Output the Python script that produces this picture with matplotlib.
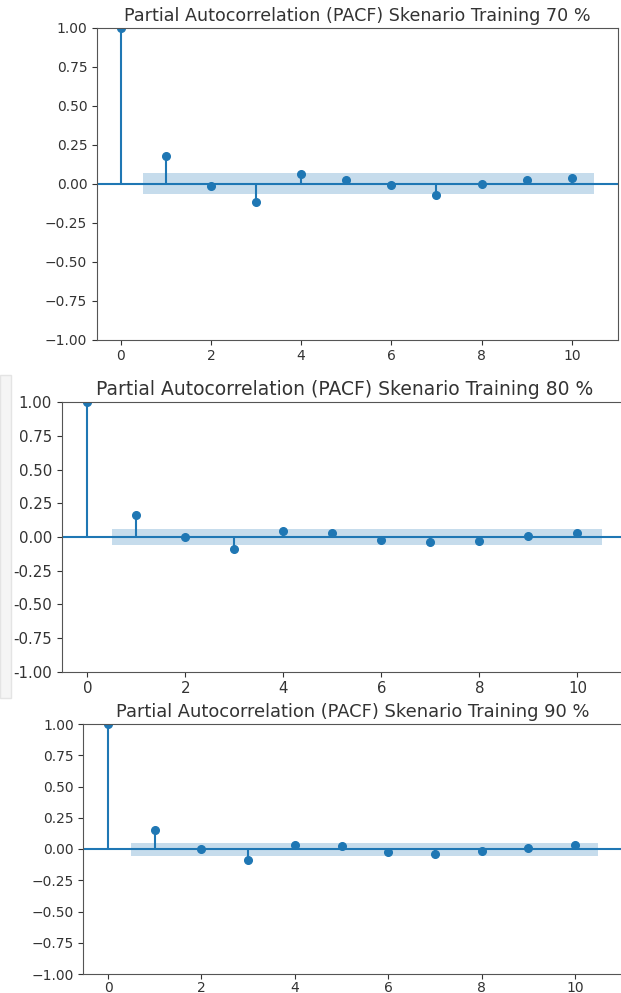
import numpy as np
import matplotlib
matplotlib.use("Agg")
import matplotlib.pyplot as plt
from matplotlib.patches import Rectangle
from matplotlib.ticker import FuncFormatter

# PACF values (lag 0..10)
lags = np.arange(0, 11)
pacf_70 = [1.0, 0.175, -0.015, -0.12, 0.06, 0.02, -0.01, -0.07, -0.005, 0.02, 0.035]
pacf_80 = [1.0, 0.165, 0.0, -0.09, 0.045, 0.03, -0.02, -0.035, -0.03, 0.01, 0.03]
pacf_90 = [1.0, 0.155, 0.0, -0.085, 0.035, 0.025, -0.025, -0.04, -0.015, 0.005, 0.03]
conf_70 = 0.066
conf_80 = 0.062
conf_90 = 0.052
titles = ["Partial Autocorrelation (PACF) Skenario Training 70 %",
          "Partial Autocorrelation (PACF) Skenario Training 80 %",
          "Partial Autocorrelation (PACF) Skenario Training 90 %"]

W, H = 621, 993
fig = plt.figure(figsize=(W / 100, H / 100), dpi=100)

# faint screenshot frame around the middle panel
fig.patches.append(Rectangle((0, 1 - 698 / H), 11 / W, (698 - 375) / H,
                             transform=fig.transFigure, facecolor='#f5f5f5',
                             edgecolor='#e4e4e4', linewidth=1, zorder=0))


def pacf_panel(box, vals, conf, title, fs_tick, fs_title, hyphen=False, xpad=3.5):
    left, right, top, bottom = box
    ax = fig.add_axes([left / W, 1 - bottom / H, (right - left) / W, (bottom - top) / H])
    ax.vlines(lags, 0, vals, color='C0', linewidth=1.5)
    ax.plot(lags, vals, 'o', color='C0', markersize=5.5)
    ax.axhline(0, color='C0', linewidth=1.5)
    band_x = np.arange(1, 11).astype(float)
    band_x[0] -= 0.5
    band_x[-1] += 0.5
    ax.fill_between(band_x, -conf, conf, color='C0', alpha=0.25, linewidth=0)
    ax.set_xlim(-0.525, 11.025)
    ax.set_ylim(-1, 1)
    ax.set_xticks([0, 2, 4, 6, 8, 10])
    ax.set_yticks(np.arange(-1, 1.01, 0.25))
    if hyphen:
        ax.yaxis.set_major_formatter(FuncFormatter(lambda v, p: '%.2f' % v))
    ax.tick_params(labelsize=fs_tick, colors='#333333')
    ax.tick_params(axis='x', pad=xpad)
    for s in ax.spines.values():
        s.set_color('#555555')
    ax.set_title(title, fontsize=fs_title, color='#333333', pad=5)
    return ax


pacf_panel((97, 618, 27.7, 339.5), pacf_70, conf_70, titles[0], 10, 12.6)
pacf_panel((61.7, 627.7, 402.3, 671.7), pacf_80, conf_80, titles[1], 10.8, 13.5, hyphen=True)
pacf_panel((83.5, 623, 724, 974), pacf_90, conf_90, titles[2], 10, 12.9, xpad=1.2)

plt.savefig('out.png', dpi=100)
